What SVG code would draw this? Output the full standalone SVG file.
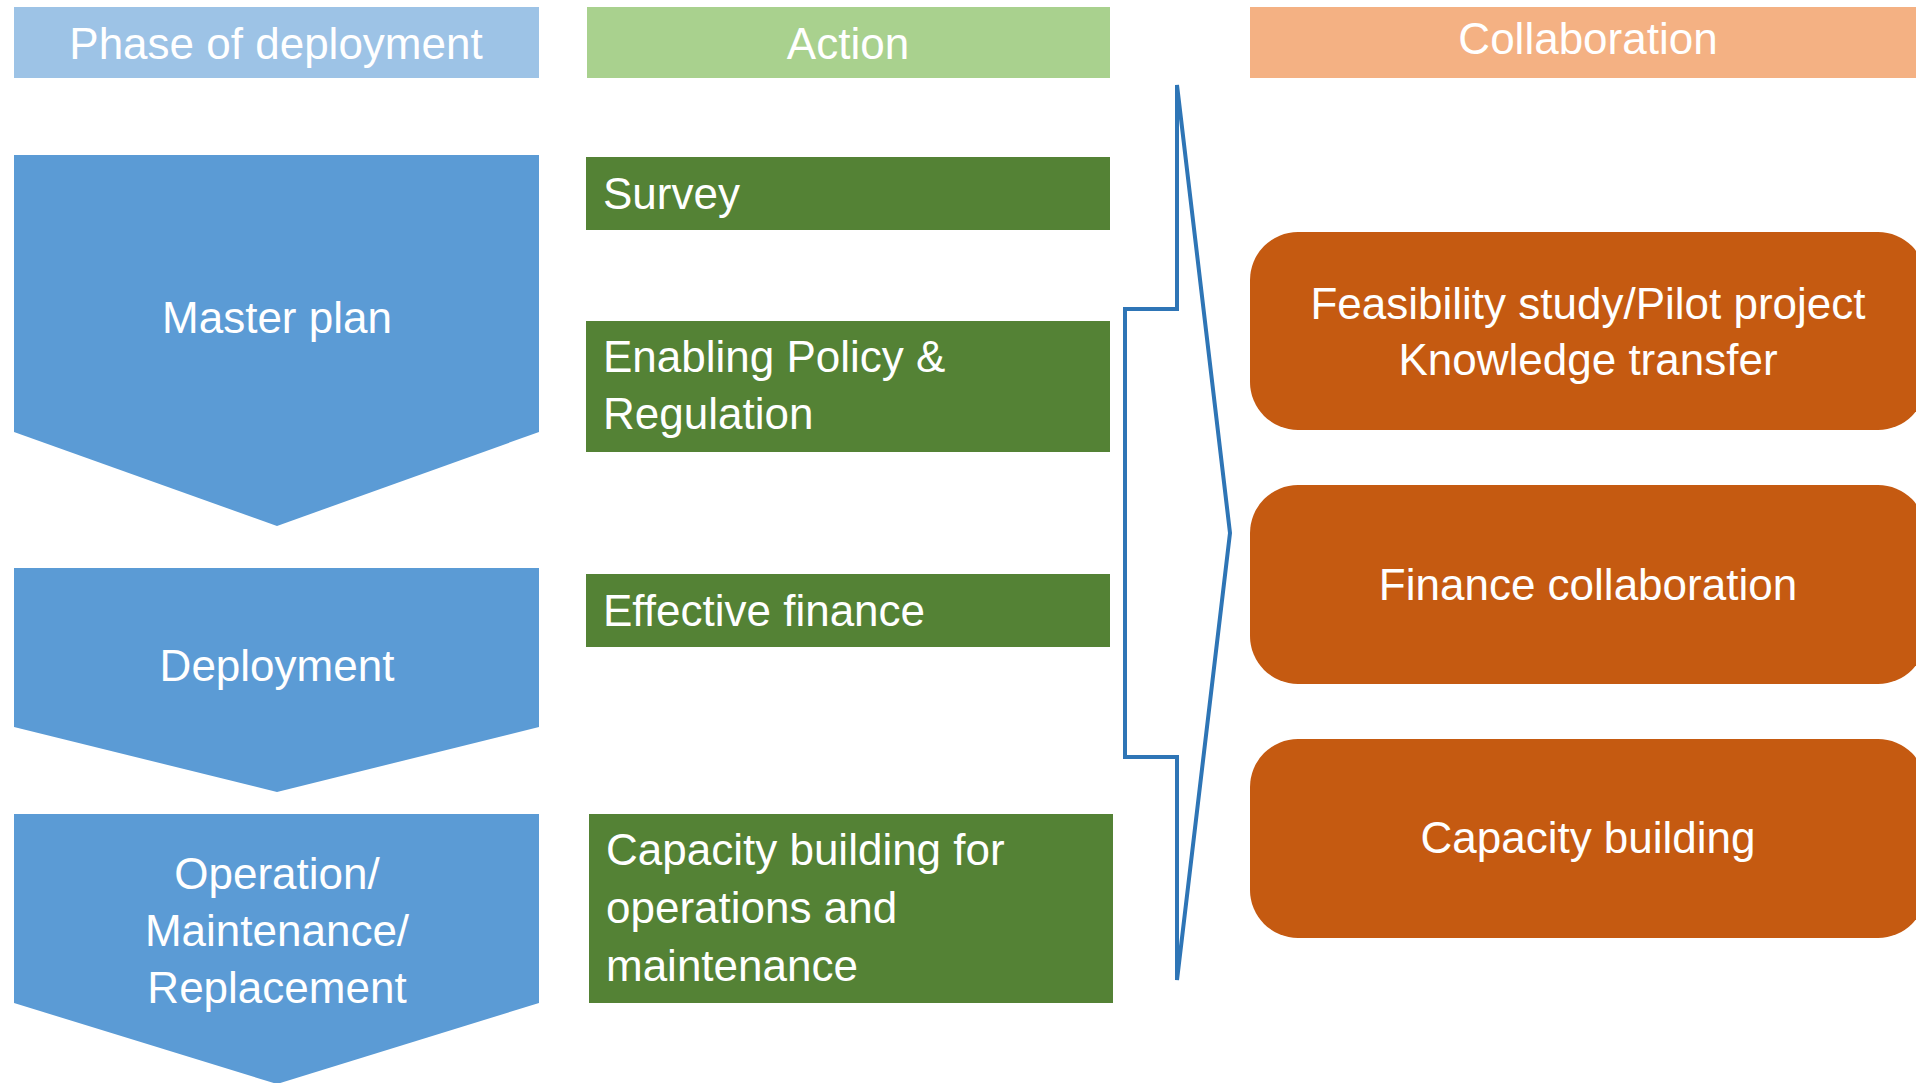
<svg xmlns="http://www.w3.org/2000/svg" width="1916" height="1083" viewBox="0 0 1916 1083">
<style>
text{font-family:"Liberation Sans",Arial,sans-serif;font-size:44px;fill:#ffffff}
.c{text-anchor:middle}
.phase{fill:#5B9BD5}
.act{fill:#548235}
.col{fill:#C55A11}
</style>
<rect width="1916" height="1083" fill="#ffffff"/>
<g id="header-phase"><rect x="14" y="7" width="525" height="71" fill="#9DC3E6"/><text class="c" x="276" y="59">Phase of deployment</text></g>
<g id="header-action"><rect x="587" y="7" width="523" height="71" fill="#A9D18E"/><text class="c" x="848" y="59">Action</text></g>
<g id="header-collab"><rect x="1250" y="7" width="676" height="71" fill="#F4B183"/><text class="c" x="1588" y="54">Collaboration</text></g>

<g id="phase-master"><polygon class="phase" points="14,155 539,155 539,432 277,526 14,432"/><text class="c" x="277" y="333">Master plan</text></g>
<g id="phase-deploy"><polygon class="phase" points="14,568 539,568 539,727 277,792 14,727"/><text class="c" x="277" y="681">Deployment</text></g>
<g id="phase-operation"><polygon class="phase" points="14,814 539,814 539,1003 277,1084 14,1003"/><text class="c" x="277"><tspan x="277" y="889">Operation/</tspan><tspan x="277" y="946">Maintenance/</tspan><tspan x="277" y="1003">Replacement</tspan></text></g>

<g id="action-survey"><rect class="act" x="586" y="157" width="524" height="73"/><text x="603" y="209">Survey</text></g>
<g id="action-policy"><rect class="act" x="586" y="321" width="524" height="131"/><text><tspan x="603" y="372">Enabling Policy &amp;</tspan><tspan x="603" y="429">Regulation</tspan></text></g>
<g id="action-finance"><rect class="act" x="586" y="574" width="524" height="73"/><text x="603" y="626">Effective finance</text></g>
<g id="action-capacity"><rect class="act" x="589" y="814" width="524" height="189"/><text><tspan x="606" y="865">Capacity building for</tspan><tspan x="606" y="923">operations and</tspan><tspan x="606" y="981">maintenance</tspan></text></g>

<g id="connectors"><polygon points="1177,85 1177,309 1125,309 1125,757 1177,757 1177,980 1230,533" fill="none" stroke="#2E75B6" stroke-width="4" stroke-linejoin="miter" stroke-miterlimit="4"/></g>

<g id="collab-feasibility"><rect class="col" x="1250" y="232" width="676" height="198" rx="48" ry="48"/><text class="c"><tspan x="1588" y="319">Feasibility study/Pilot project</tspan><tspan x="1588" y="375">Knowledge transfer</tspan></text></g>
<g id="collab-finance"><rect class="col" x="1250" y="485" width="676" height="199" rx="48" ry="48"/><text class="c" x="1588" y="600">Finance collaboration</text></g>
<g id="collab-capacity"><rect class="col" x="1250" y="739" width="676" height="199" rx="48" ry="48"/><text class="c" x="1588" y="853">Capacity building</text></g>
</svg>
